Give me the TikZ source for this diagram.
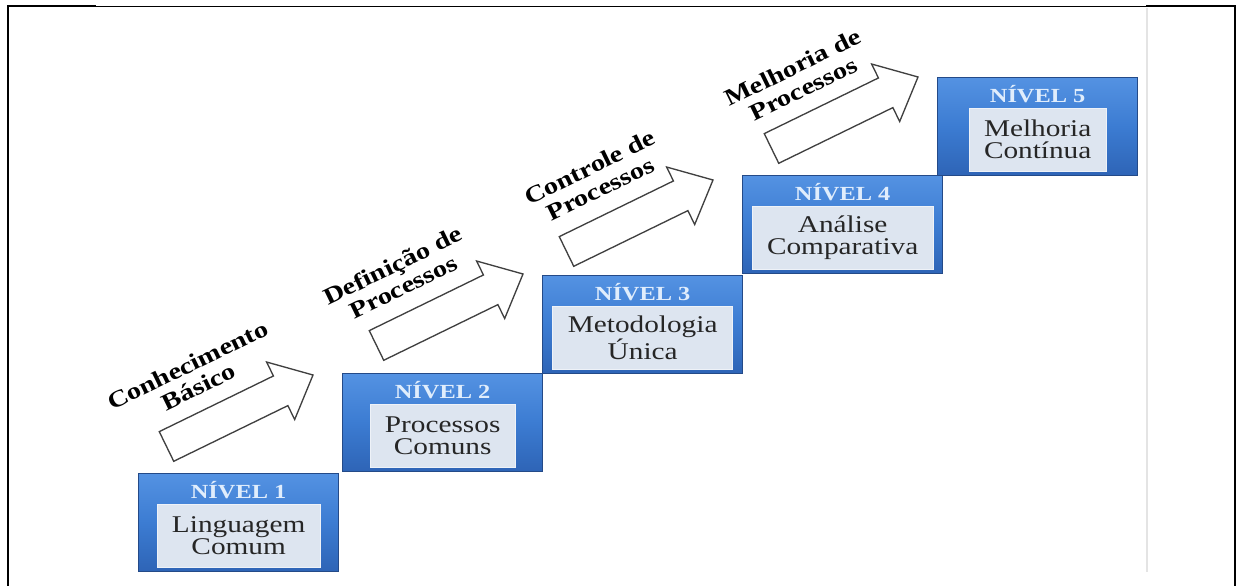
\documentclass[tikz,border=0pt]{standalone}
\usepackage{fontspec}
\setmainfont{Liberation Serif}[FakeStretch=1.22]
\usetikzlibrary{calc}
\definecolor{blueTop}{RGB}{84,146,226}
\definecolor{blueMid}{RGB}{60,124,210}
\definecolor{blueBot}{RGB}{46,100,182}
\definecolor{blueEdge}{RGB}{36,74,136}
\definecolor{panel}{RGB}{221,229,240}
\definecolor{panelEdge}{RGB}{238,242,248}
\definecolor{titleInk}{RGB}{224,237,252}
\definecolor{arrowEdge}{RGB}{64,64,64}
\definecolor{divider}{RGB}{228,228,228}
\tikzset{
  levelbox/.style={draw=blueEdge, line width=1pt, top color=blueTop, bottom color=blueBot,
    middle color=blueMid, minimum width=150pt, minimum height=73.5pt, anchor=north west,
    inner sep=0pt},
  leveltitle/.style={text=titleInk, font=\bfseries\fontsize{15}{15}\selectfont, inner sep=0pt},
  levelbody/.style={fill=panel, draw=panelEdge, line width=0.6pt, minimum height=47.25pt,
    inner xsep=11.25pt, inner ysep=0pt, align=center, text=black!85,
    font=\fontsize{18}{16.5}\selectfont},
  steplabel/.style={rotate=26, align=center, font=\bfseries\fontsize{17.5}{18}\selectfont,
    inner sep=0pt},
  blockarrow/.style={draw=arrowEdge, fill=white, line width=1pt, line join=miter},
  frameline/.style={draw=black, line cap=rect},
}
\begin{document}
\begin{tikzpicture}[x={(0.75pt,0)}, y={(0,-0.75pt)}]
  \useasboundingbox (0,0) rectangle (1237,585);

  % page frame
  \draw[frameline, line width=0.9pt] (8,6.5) -- (1235,6.5);
  \draw[frameline, line width=2.2pt] (8,6) -- (95,6);
  \draw[frameline, line width=2.2pt] (1147,6) -- (1235,6);
  \draw[frameline, line width=1.9pt] (8,6) -- (8,585);
  \draw[frameline, line width=2.2pt] (1235,6) -- (1235,585);
  \draw[divider, line width=2.2pt] (1147,8) -- (1147,572);

  % level boxes
  \foreach \n/\x/\y/\body in {
      1/138/473/{Linguagem\\Comum},
      2/342/373/{Processos\\Comuns},
      3/542/275/{Metodologia\\Única},
      4/742/175/{Análise\\Comparativa},
      5/937/77/{Melhoria\\Contínua}} {
    \node[levelbox] (lvl\n) at (\x,\y) {};
    \node[leveltitle] (title\n) at ($(lvl\n.north)+(0,17)$) {NÍVEL \n};
    \node[levelbody] (body\n) at ($(lvl\n.north)+(0,62.5)$) {\body};
  }

  % step arrows
  \coordinate (tip1) at (313,375);
  \coordinate (tip2) at (523,274);
  \coordinate (tip3) at (713,180);
  \coordinate (tip4) at (918,77);
  \foreach \k in {1,...,4} {
    \begin{scope}[shift={(tip\k)}, rotate=26]
      \draw[blockarrow] (0,0) -- (-36,32) -- (-36,16.5) -- (-163,16.5)
        -- (-163,-16.5) -- (-36,-16.5) -- (-36,-32) -- cycle;
    \end{scope}
  }

  % step labels
  \node[steplabel] (lab1) at (193,376) {Conhecimento\\Básico};
  \node[steplabel] (lab2) at (398,276) {Definição de\\Processos};
  \node[steplabel] (lab3) at (595,178) {Controle de\\Processos};
  \node[steplabel] (lab4) at (798,78) {Melhoria de\\Processos};
\end{tikzpicture}
\end{document}
